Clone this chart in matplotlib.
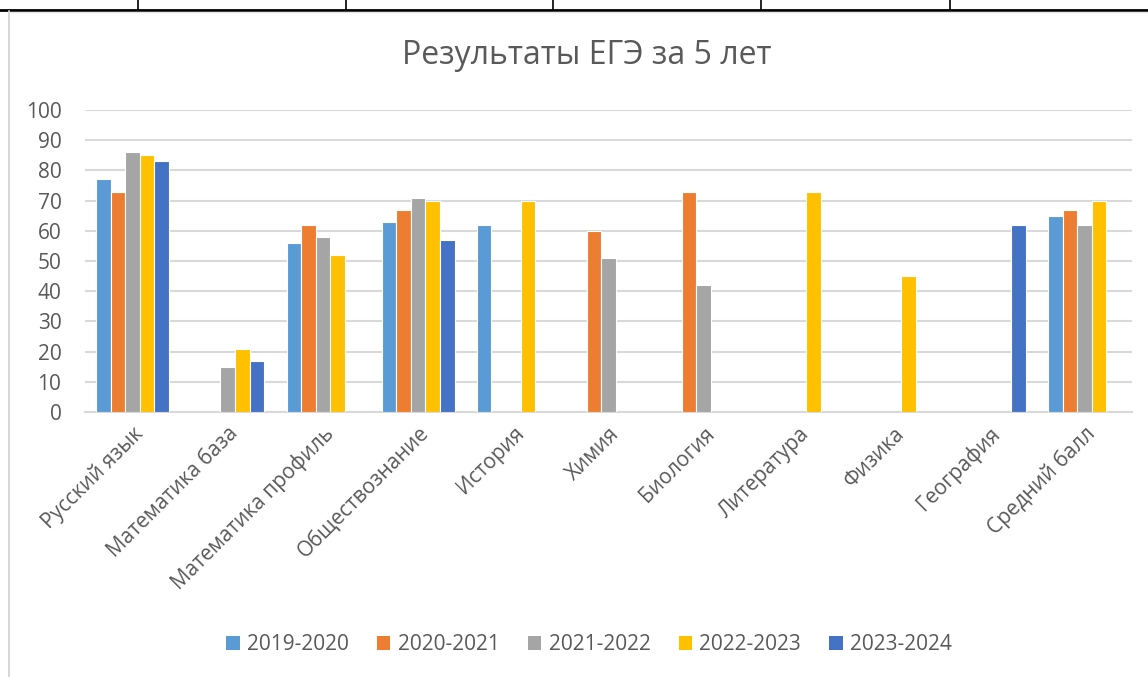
import numpy as np
import matplotlib
matplotlib.use("Agg")
import matplotlib.pyplot as plt
from matplotlib.lines import Line2D
from matplotlib.patches import Patch

plt.rcParams['font.family'] = ['Open Sans', 'DejaVu Sans']

categories = ["Русский язык", "Математика база", "Математика профиль", "Обществознание",
              "История", "Химия", "Биология", "Литература", "Физика", "География", "Средний балл"]
series_names = ["2019-2020", "2020-2021", "2021-2022", "2022-2023", "2023-2024"]
s2019 = [77, None, 56, 63, 62, None, None, None, None, None, 65]
s2020 = [73, None, 62, 67, None, 60, 73, None, None, None, 67]
s2021 = [86, 15, 58, 71, None, 51, 42, None, None, None, 62]
s2022 = [85, 21, 52, 70, 70, None, None, 73, 45, None, 70]
s2023 = [83, 17, None, 57, None, None, None, None, None, 62, None]
colors = ["#5B9BD5", "#ED7D31", "#A5A5A5", "#FFC000", "#4472C4"]
yticks = [0, 10, 20, 30, 40, 50, 60, 70, 80, 90, 100]

W, H = 1148, 677
fig = plt.figure(figsize=(W / 100, H / 100), dpi=100)
ax = fig.add_axes([85 / W, 1 - 412 / H, (1132 - 85) / W, (412 - 110) / H])

x = np.arange(len(categories))
bw = 0.153
txt = "#595959"
for i, (vals, c) in enumerate(zip([s2019, s2020, s2021, s2022, s2023], colors)):
    v = np.array([np.nan if a is None else a for a in vals], dtype=float)
    m = ~np.isnan(v)
    ax.bar(x[m] + (i - 2) * bw, v[m], width=bw, color=c, edgecolor="white",
           linewidth=0.8, zorder=3)

ax.set_xlim(-0.5, len(categories) - 0.5)
ax.set_ylim(0, 100)
ax.set_yticks(yticks)
ax.yaxis.grid(True, color="#D9D9D9", linewidth=1.5, zorder=0)
ax.set_axisbelow(True)
for s in ["top", "right", "left"]:
    ax.spines[s].set_visible(False)
ax.spines["bottom"].set_color("#D9D9D9")
ax.spines["bottom"].set_linewidth(1.5)
ax.tick_params(axis="both", length=0, colors=txt, labelsize=15)
ax.tick_params(axis="y", pad=17)
ax.tick_params(axis="x", pad=8)
ax.set_xticks(x)
ax.set_xticklabels(categories, rotation=45, ha="right", rotation_mode="anchor")

fig.text(587 / W, 1 - 55 / H, "Результаты ЕГЭ за 5 лет", ha="center", va="center",
         fontsize=23, color=txt)

handles = [Patch(facecolor=c, edgecolor="none") for c in colors]
fig.legend(handles, series_names, loc="center", bbox_to_anchor=(589 / W, 1 - 645 / H),
           ncol=5, frameon=False, fontsize=15, labelcolor=txt, handlelength=0.65,
           handleheight=0.65, handletextpad=0.35, columnspacing=1.35)

# surrounding table / chart frame
fig.add_artist(Line2D([0, 1], [1 - 9.5 / H, 1 - 9.5 / H], color="black", linewidth=2))
for xv in [138, 346, 553, 761, 950]:
    fig.add_artist(Line2D([xv / W, xv / W], [1, 1 - 9.5 / H], color="black", linewidth=1.2))
fig.add_artist(Line2D([8.5 / W, 8.5 / W], [1 - 11 / H, 0], color="#D0D0D0", linewidth=1.2))
fig.add_artist(Line2D([8.5 / W, 1], [1 - 11.5 / H, 1 - 11.5 / H], color="#E6E6E6", linewidth=1))

fig.savefig("out.png", dpi=100)
